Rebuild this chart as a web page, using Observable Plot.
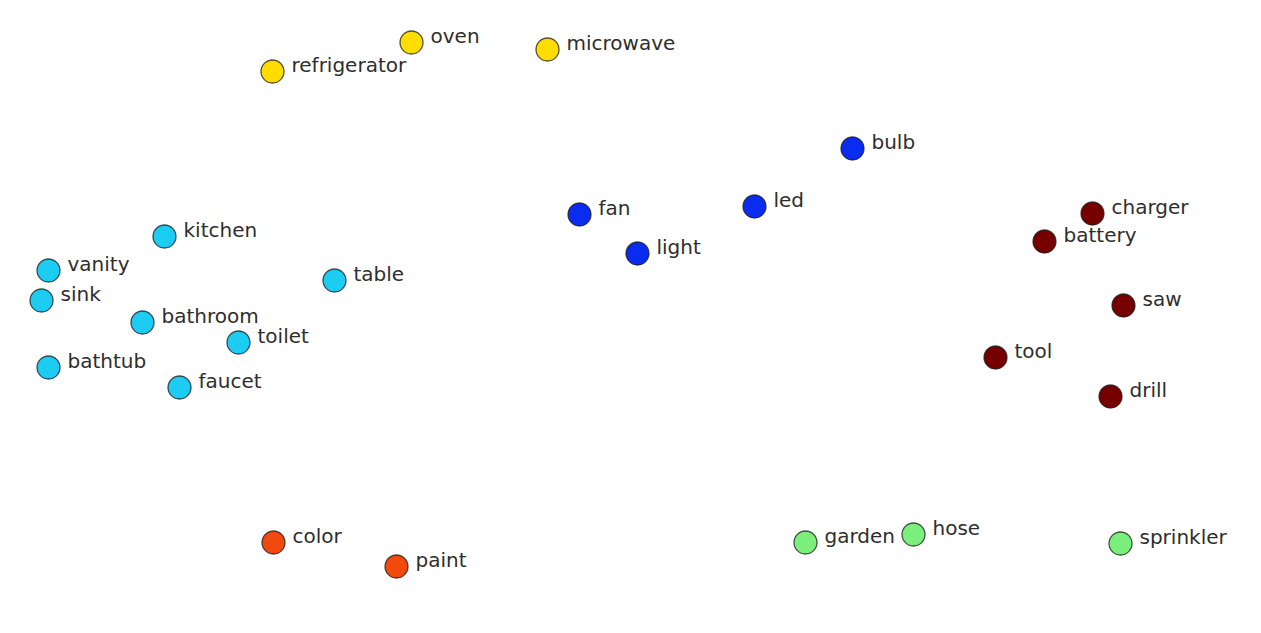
<!DOCTYPE html>
<html>
<head>
<meta charset="utf-8">
<script src="https://cdn.jsdelivr.net/npm/d3@7"></script>
<script src="https://cdn.jsdelivr.net/npm/@observablehq/plot@0.6"></script>
<style>
  html, body { margin: 0; padding: 0; background: #fff; }
  #chart svg { display: block; }
</style>
</head>
<body>
<div id="chart"></div>
<script>
// Word embedding projection (2-D)
const words = ["refrigerator","oven","microwave",
  "kitchen","vanity","sink","bathroom","toilet","bathtub","faucet","table",
  "fan","light","led","bulb",
  "charger","battery","saw","tool","drill",
  "color","paint",
  "garden","hose","sprinkler"];
const xs = [27.2,41.1,54.7,
  16.4,4.8,4.1,14.2,23.8,4.8,17.9,33.4,
  57.9,63.7,75.4,85.2,
  109.2,104.4,112.3,99.5,111.0,
  27.3,39.6,
  80.5,91.3,112.0];
const ys = [56.2,59.1,58.4,
  39.7,36.3,33.3,31.1,29.1,26.6,24.6,35.3,
  41.9,38.0,42.7,48.5,
  42.0,39.2,32.8,27.6,23.7,
  9.1,6.7,
  9.1,9.9,9.0];
const groups = ["kitchen appliances","kitchen appliances","kitchen appliances",
  "bath","bath","bath","bath","bath","bath","bath","bath",
  "lighting","lighting","lighting","lighting",
  "tools","tools","tools","tools","tools",
  "paint","paint",
  "garden","garden","garden"];
const groupNames = ["kitchen appliances","bath","lighting","tools","paint","garden"];
const groupColors = ["#ffdd00","#1cccf2","#0a2cf0","#760000","#f24a0c","#7bef7b"];

const data = words.map((w, i) => ({word: w, x: xs[i], y: ys[i], group: groups[i]}));

const chart = Plot.plot({
  width: 1261,
  height: 633,
  margin: 0,
  x: {domain: [0, 126.1], axis: null},
  y: {domain: [0, 63.3], axis: null},
  color: {domain: groupNames, range: groupColors},
  style: {background: "#fff"},
  marks: [
    Plot.dot(data, {x: "x", y: "y", r: 11.5, fill: "group", stroke: "#1a1a1a", strokeWidth: 1.3, strokeOpacity: 0.75}),
    Plot.text(data, {x: "x", y: "y", text: "word", dx: 19, dy: -6, textAnchor: "start",
      fill: "#2e2e2e", fontSize: 20, fontFamily: "DejaVu Sans"})
  ]
});
document.getElementById("chart").appendChild(chart);
</script>
</body>
</html>
